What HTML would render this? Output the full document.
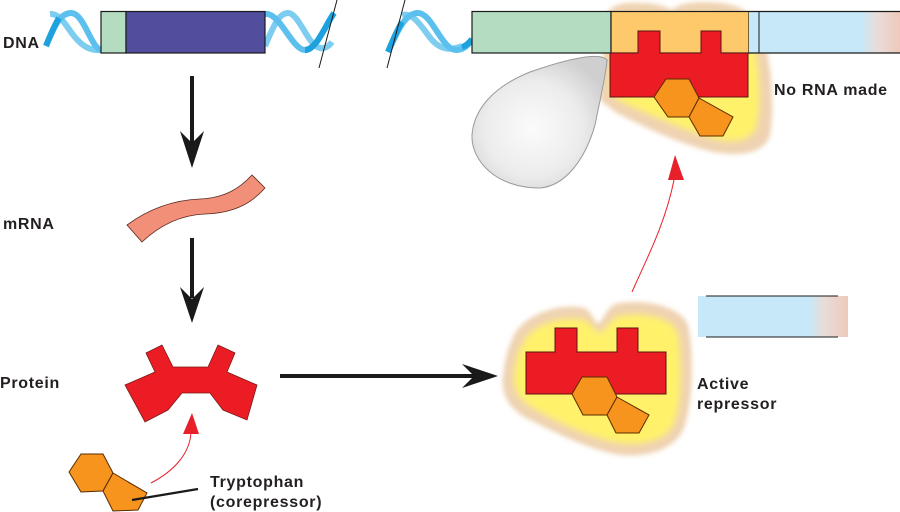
<!DOCTYPE html>
<html><head><meta charset="utf-8"><style>
html,body{margin:0;padding:0;background:#fff;}
svg{display:block;}
text{font-family:"Liberation Sans",Arial,sans-serif;font-weight:bold;font-size:16px;fill:#231f20;letter-spacing:0.7px;}
</style></head><body>
<svg width="900" height="512" viewBox="0 0 900 512" xmlns="http://www.w3.org/2000/svg">
<defs>
<filter id="b1" x="-20%" y="-20%" width="140%" height="140%"><feGaussianBlur stdDeviation="2.5"/></filter>
<filter id="b2" x="-20%" y="-20%" width="140%" height="140%"><feGaussianBlur stdDeviation="3.5"/></filter>
<radialGradient id="gray" cx="0.45" cy="0.55" r="0.6">
<stop offset="0" stop-color="#fbfbfb"/><stop offset="0.6" stop-color="#ececec"/><stop offset="1" stop-color="#cfcfcf"/></radialGradient>
<linearGradient id="fade1" x1="759" y1="0" x2="900" y2="0" gradientUnits="userSpaceOnUse">
<stop offset="0" stop-color="#c7e8f8"/><stop offset="0.72" stop-color="#c7e8f8"/><stop offset="0.84" stop-color="#e8dcd8"/><stop offset="1" stop-color="#edcabb"/></linearGradient>
<linearGradient id="fade2" x1="698" y1="0" x2="848" y2="0" gradientUnits="userSpaceOnUse">
<stop offset="0" stop-color="#c7e8f8"/><stop offset="0.74" stop-color="#c7e8f8"/><stop offset="0.84" stop-color="#e8dcd8"/><stop offset="1" stop-color="#edcabb"/></linearGradient>
</defs>

<!-- LEFT DNA helices -->
<g fill="none" stroke-width="6" stroke-linecap="butt">
<path d="M50,14 C60,13 66,26 74,36 C82,46 90,51 101,50" stroke="#7ccdf0"/>
<path d="M46,46 C53,30 59,13 71,13 C84,13 91,48 101,50" stroke="#5cc0ee"/>
<path d="M46,46 C50,36 54,26 59,18" stroke="#1ea2de"/>

<path d="M265,46 C272,30 278,13 288,13 C299,13 308,46 320,48 C325,49 329,46 332,42" stroke="#7ccdf0"/>
<path d="M265,14 C280,12 292,50 305,50 C316,50 324,28 334,13" stroke="#5cc0ee"/>
<path d="M305,50 C316,50 324,28 334,13" stroke="#1ea2de"/>

<path d="M402,15 C414,12 422,28 432,40 C442,51 452,50 462,46" stroke="#7ccdf0"/>
<path d="M388,52 C396,35 404,13 418,13 C432,13 442,50 456,50 C464,50 468,45 472,40" stroke="#5cc0ee"/>
<path d="M388,52 C392,42 396,32 402,22" stroke="#1ea2de"/>
<path d="M462,47 C466,46 469,43 472,39" stroke="#1ea2de"/>
</g>
<rect x="101" y="11.5" width="25" height="41.5" fill="#b3dcc1" stroke="#1a1a1a" stroke-width="1.2"/>
<rect x="126" y="11.5" width="139" height="41.5" fill="#524e9e" stroke="#1a1a1a" stroke-width="1.2"/>
<line x1="337" y1="0" x2="319" y2="68" stroke="#1a1a1a" stroke-width="1"/>
<line x1="405" y1="0" x2="387" y2="68" stroke="#1a1a1a" stroke-width="1"/>

<!-- top blob -->
<path d="M606,20 C606,4 625,2 640,3 C655,3 665,6 672,10 C680,2 700,1 720,3 C740,5 750,12 758,25 C772,50 775,110 770,135 C765,155 735,158 705,150 C670,140 640,125 615,112 L600,100 Z" fill="#efd3b2" filter="url(#b1)"/>
<path d="M614,26 C618,14 660,12 672,20 C685,12 738,12 750,30 C760,55 762,108 756,128 C749,143 728,144 705,136 C675,126 645,113 620,101 L610,93 Z" fill="#fff26a" filter="url(#b2)"/>

<!-- right DNA -->
<rect x="472" y="11.5" width="139" height="41.5" fill="#b3dcc1" stroke="#1a1a1a" stroke-width="1.2"/>
<rect x="611" y="11.5" width="138" height="41.5" fill="#fdc96b" stroke="#1a1a1a" stroke-width="1.2"/>
<rect x="749" y="11.5" width="160" height="41.5" fill="url(#fade1)"/>
<line x1="749" y1="11.5" x2="900" y2="11.5" stroke="#1a1a1a" stroke-width="1.2"/>
<line x1="749" y1="53" x2="900" y2="53" stroke="#1a1a1a" stroke-width="1.2"/>
<line x1="759" y1="11.5" x2="759" y2="53" stroke="#1a1a1a" stroke-width="1"/>

<!-- gray polymerase -->
<path d="M607,60 C600,52 570,58 530,72 C495,86 474,108 472,135 C471,160 495,188 540,188 C565,186 585,160 595,125 C600,100 606,75 607,60 Z" fill="url(#gray)" stroke="#9a9a9a" stroke-width="1"/>

<!-- red repressor top -->
<path d="M610,53 L638,53 L638,31 L660,31 L660,53 L701,53 L701,31 L721,31 L721,53 L748,53 L748,97 L610,97 Z" fill="#ec1c24" stroke="#5c1414" stroke-width="1"/>
<polygon points="654,97 666,79 689,79 699,98 689,117 668,117" fill="#f7941d" stroke="#5a2a00" stroke-width="1"/>
<polygon points="699,98 733,117 723,136 700,136 689,117" fill="#f7941d" stroke="#5a2a00" stroke-width="1"/>

<!-- arrows left -->
<line x1="192" y1="76" x2="192" y2="145" stroke="#1a1a1a" stroke-width="4"/>
<polygon points="180,131 192,143 204,131 192,168" fill="#1a1a1a"/>
<line x1="192" y1="238" x2="192" y2="298" stroke="#1a1a1a" stroke-width="4"/>
<polygon points="180,287 192,299 204,287 192,323" fill="#1a1a1a"/>

<!-- mRNA -->
<path d="M127,225 C150,208 175,200 200,199 C225,198 240,188 252,175 L265,188 C250,205 232,213 205,214 C180,215 160,225 142,242 Z" fill="#f28f79" stroke="#5a2a20" stroke-width="0.8"/>

<!-- protein -->
<polygon points="146,353 162,345 173,367 208,367 218,345 235,353 227,372 257,385 247,420 223,410 210,393 182,393 168,410 145,422 125,385 155,372" fill="#ec1c24" stroke="#7a1a1a" stroke-width="0.8"/>

<!-- horizontal arrow -->
<line x1="280" y1="376" x2="475" y2="376" stroke="#1a1a1a" stroke-width="4"/>
<polygon points="462,364 474,376 462,388 498,376" fill="#1a1a1a"/>

<!-- tryptophan left -->
<polygon points="69,472 81,454 103,454 113,473 103,491 81,492" fill="#f7941d" stroke="#5a2a00" stroke-width="1"/>
<polygon points="113,473 147,493 138,510 113,511 103,491" fill="#f7941d" stroke="#5a2a00" stroke-width="1"/>
<line x1="132" y1="500" x2="198" y2="489" stroke="#1a1a1a" stroke-width="2.2"/>

<!-- red arrow left -->
<path d="M151,483 C172,472 190,455 191,432" fill="none" stroke="#e8202a" stroke-width="1"/>
<polygon points="192,413 183,434 199,434" fill="#e8202a"/>

<!-- active repressor blob -->
<path d="M512,340 C520,315 560,302 585,308 C592,312 594,322 598,323 C603,322 605,310 615,304 C640,298 680,305 688,325 C694,350 693,400 685,425 C678,448 650,458 620,455 C590,450 560,435 530,420 C510,410 500,395 503,375 C505,360 507,350 512,340 Z" fill="#efd3b2" filter="url(#b1)"/>
<path d="M523,343 C533,322 565,316 585,320 C592,324 596,333 600,333 C606,331 610,318 620,316 C645,312 674,318 678,334 C682,360 682,400 675,421 C668,440 645,446 620,443 C595,439 565,426 540,412 C520,402 513,390 514,375 C516,361 518,351 523,343 Z" fill="#fff26a" filter="url(#b2)"/>
<path d="M526,352 L555,352 L555,328 L577,328 L577,352 L617,352 L617,328 L638,328 L638,352 L666,352 L666,394 L526,394 Z" fill="#ec1c24" stroke="#5c1414" stroke-width="1"/>
<polygon points="572,394 582,377 607,377 617,397 607,415 583,415" fill="#f7941d" stroke="#5a2a00" stroke-width="1"/>
<polygon points="617,397 649,415 639,433 616,433 607,415" fill="#f7941d" stroke="#5a2a00" stroke-width="1"/>

<!-- red arrow right -->
<path d="M632,292 C645,262 665,225 674,180" fill="none" stroke="#e8202a" stroke-width="1"/>
<polygon points="675,155 668,180 684,180" fill="#e8202a"/>

<!-- lower right bar -->
<rect x="698" y="296" width="150" height="41" fill="url(#fade2)"/>
<line x1="706" y1="296" x2="838" y2="296" stroke="#1a1a1a" stroke-width="1"/>
<line x1="706" y1="337" x2="838" y2="337" stroke="#1a1a1a" stroke-width="1"/>

<!-- labels -->
<text x="3" y="48">DNA</text>
<text x="3" y="229">mRNA</text>
<text x="0" y="388">Protein</text>
<text x="210" y="487">Tryptophan</text>
<text x="210" y="507">(corepressor)</text>
<text x="774" y="95">No RNA made</text>
<text x="697" y="389">Active</text>
<text x="697" y="409">repressor</text>
</svg>
</body></html>
